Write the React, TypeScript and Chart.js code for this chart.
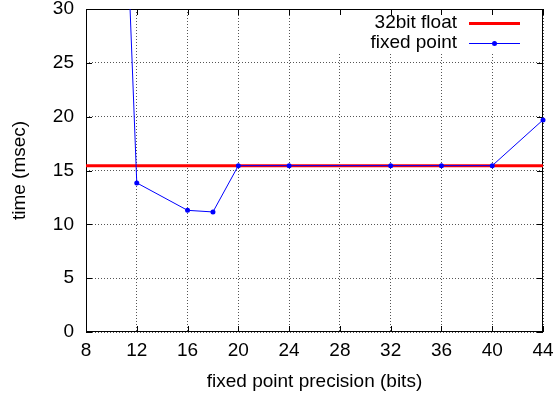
import React, { useEffect, useRef } from "react";
import { Chart, registerables } from "chart.js";

Chart.register(...registerables);

// ---- data ----
const precisionBits = [10, 12, 16, 18, 20, 24, 32, 36, 40, 44];
const fixedPointMs = [75, 13.85, 11.3, 11.15, 15.45, 15.45, 15.45, 15.45, 15.45, 19.7];
const floatBits = [8, 44];
const floatMs = [15.45, 15.45];
const seriesLabels = ["32bit float", "fixed point"];
const xTitle = "fixed point precision (bits)";
const yTitle = "time (msec)";
const xMin = 8;
const xMax = 44;
const xStep = 4;
const yMin = 0;
const yMax = 30;
const yStep = 5;

const FAMILY = "'Liberation Sans', Arial, Helvetica, sans-serif";
const FONT_SIZE = 19;
const FONT = `${FONT_SIZE}px ${FAMILY}`;

const gnuplotFrame = {
  id: "gnuplotFrame",
  beforeDatasetsDraw(chart: any) {
    const { ctx, chartArea: a, scales } = chart;
    ctx.save();
    // key background (opaque, no border)
    ctx.fillStyle = "#ffffff";
    ctx.fillRect(a.right - 211, a.top + 1, 210, 43);
    // inner tick marks on all four sides
    ctx.strokeStyle = "#000";
    ctx.lineWidth = 1;
    const tl = 6;
    ctx.beginPath();
    scales.x.ticks.forEach((t: any) => {
      const px = Math.round(scales.x.getPixelForValue(t.value)) + 0.5;
      ctx.moveTo(px, a.bottom);
      ctx.lineTo(px, a.bottom - tl);
      ctx.moveTo(px, a.top);
      ctx.lineTo(px, a.top + tl);
    });
    scales.y.ticks.forEach((t: any) => {
      const py = Math.round(scales.y.getPixelForValue(t.value)) + 0.5;
      ctx.moveTo(a.left, py);
      ctx.lineTo(a.left + tl, py);
      ctx.moveTo(a.right, py);
      ctx.lineTo(a.right - tl, py);
    });
    ctx.stroke();
    // border
    ctx.strokeRect(a.left + 0.5, a.top + 0.5, a.right - a.left - 1, a.bottom - a.top - 1);
    ctx.restore();
  },
  afterDatasetsDraw(chart: any) {
    const { ctx, chartArea: a } = chart;
    ctx.save();
    // key
    const ds = chart.data.datasets;
    const textRight = a.right - 86;
    const sx0 = a.right - 74;
    const sx1 = a.right - 23;
    const rows = [a.top + 14, a.top + 34];
    ctx.font = FONT;
    ctx.textAlign = "right";
    ctx.textBaseline = "middle";
    ctx.fillStyle = "#000";
    [0, 1].forEach((i) => {
      const d: any = ds[i];
      const y = rows[i];
      ctx.fillText(d.label, textRight, y);
      ctx.beginPath();
      ctx.strokeStyle = d.borderColor;
      ctx.lineWidth = d.borderWidth;
      ctx.moveTo(sx0, y + 0.5);
      ctx.lineTo(sx1, y + 0.5);
      ctx.stroke();
      if (d.pointRadius > 0) {
        ctx.beginPath();
        ctx.fillStyle = d.pointBackgroundColor;
        ctx.arc((sx0 + sx1) / 2, y + 0.5, d.pointRadius, 0, Math.PI * 2);
        ctx.fill();
        ctx.fillStyle = "#000";
      }
    });
    ctx.restore();
  },
};

export default function App() {
  const canvasRef = useRef<HTMLCanvasElement | null>(null);

  useEffect(() => {
    if (!canvasRef.current) return;
    const chart = new Chart(canvasRef.current, {
      type: "line",
      data: {
        datasets: [
          {
            label: seriesLabels[0],
            data: floatBits.map((x, i) => ({ x, y: floatMs[i] })),
            borderColor: "#ff0000",
            backgroundColor: "#ff0000",
            borderWidth: 3,
            pointRadius: 0,
            order: 1,
          },
          {
            label: seriesLabels[1],
            data: precisionBits.map((x, i) => ({ x, y: fixedPointMs[i] })),
            borderColor: "#0000ff",
            backgroundColor: "#0000ff",
            pointBackgroundColor: "#0000ff",
            pointBorderColor: "#0000ff",
            borderWidth: 1,
            pointRadius: 2.5,
            pointBorderWidth: 0,
            order: 0,
            clip: { left: 5, top: 0, right: 5, bottom: 5 },
          },
        ],
      },
      options: {
        responsive: false,
        animation: false,
        layout: { padding: { top: 9, right: 13, left: 0, bottom: 0 } },
        plugins: {
          legend: { display: false },
          tooltip: { enabled: false },
        },
        scales: {
          x: {
            type: "linear",
            min: xMin,
            max: xMax,
            ticks: {
              stepSize: xStep,
              color: "#000",
              font: { family: FAMILY, size: FONT_SIZE },
              padding: 7,
              maxRotation: 0,
              autoSkip: false,
            },
            grid: { color: "#555", lineWidth: 1, drawTicks: false },
            border: { display: false, dash: [1, 2] },
            title: {
              display: true,
              text: xTitle,
              color: "#000",
              font: { family: FAMILY, size: FONT_SIZE },
              padding: { top: 0, bottom: 1 },
            },
            afterFit: (s: any) => {
              s.height = 62;
              s.paddingLeft = 0;
              s.paddingRight = 0;
            },
          },
          y: {
            type: "linear",
            min: yMin,
            max: yMax,
            ticks: {
              stepSize: yStep,
              color: "#000",
              font: { family: FAMILY, size: FONT_SIZE },
              padding: 12,
            },
            grid: { color: "#555", lineWidth: 1, drawTicks: false },
            border: { display: false, dash: [1, 2] },
            title: {
              display: true,
              text: yTitle,
              color: "#000",
              font: { family: FAMILY, size: FONT_SIZE },
              padding: { top: 8, bottom: 0 },
            },
            afterFit: (s: any) => {
              s.width = 86;
              s.paddingTop = 0;
              s.paddingBottom = 0;
            },
          },
        },
      },
      plugins: [gnuplotFrame],
    });
    return () => chart.destroy();
  }, []);

  return (
    <div style={{ position: "absolute", left: 0, top: 0, width: 556, height: 394, background: "#fff" }}>
      <canvas ref={canvasRef} width={556} height={394} style={{ display: "block" }} />
    </div>
  );
}
